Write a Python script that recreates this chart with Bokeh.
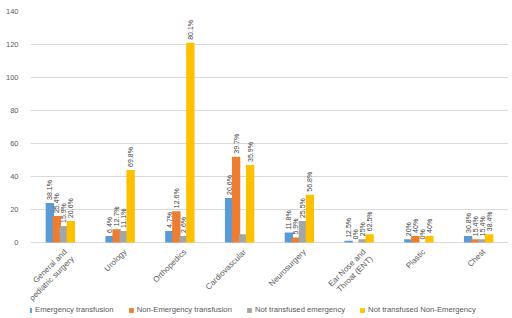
import math
from bokeh.plotting import figure
from bokeh.models import Legend, LegendItem, ColumnDataSource, Range1d, FixedTicker
from bokeh.transform import dodge
from bokeh.core.properties import value
from bokeh.embed import file_html
from bokeh.resources import INLINE

categories = ["General and\npediatric surgery", "Urology", "Orthopedics", "Cardiovascular",
              "Neurosurgery", "Ear Nose and\nThroat (ENT)", "Plastic", "Chest"]
series_names = ["Emergency transfusion", "Non-Emergency transfusion",
                "Not transfused emergency", "Not transfused Non-Emergency"]
emergency_transfusion = [24, 4, 7, 27, 6, 1, 2, 4]
non_emergency_transfusion = [16, 8, 19, 52, 3, 0, 4, 2]
not_transfused_emergency = [10, 7, 4, 5, 13, 2, 0, 2]
not_transfused_non_emergency = [13, 44, 121, 47, 29, 5, 4, 5]
pct_emergency_transfusion = ["38.1%", "6.4%", "4.7%", "20.6%", "11.8%", "12.5%", "20%", "30.8%"]
pct_non_emergency_transfusion = ["25.4%", "12.7%", "12.6%", "39.7%", "5.9%", "0%", "40%", "15.4%"]
pct_not_transfused_emergency = ["15.9%", "11.1%", "2.6%", "", "25.5%", "25%", "0%", "15.4%"]
pct_not_transfused_non_emergency = ["20.6%", "69.8%", "80.1%", "35.9%", "56.8%", "62.5%", "40%", "38.4%"]
y_ticks = [0, 20, 40, 60, 80, 100, 120, 140]

colors = ["#5B9BD5", "#ED7D31", "#A5A5A5", "#FFC000"]
offsets = [-0.176, -0.059, 0.059, 0.176]
values_list = [emergency_transfusion, non_emergency_transfusion,
               not_transfused_emergency, not_transfused_non_emergency]
labels_list = [pct_emergency_transfusion, pct_non_emergency_transfusion,
               pct_not_transfused_emergency, pct_not_transfused_non_emergency]

FONT = "Liberation Sans"
PX_PER_UNIT = 231 / 140.0
BOTTOM_PX = 76

# the frame extends below zero so the category labels and legend sit inside it
p = figure(x_range=categories, y_range=Range1d(-BOTTOM_PX / PX_PER_UNIT, 140),
           frame_width=478, frame_height=231 + BOTTOM_PX,
           min_border_left=30, min_border_right=4, min_border_top=11, min_border_bottom=0,
           output_backend="svg", toolbar_location=None)
p.outline_line_color = None
p.background_fill_color = "white"

items = []
for vals, labs, col, off, name in zip(values_list, labels_list, colors, offsets, series_names):
    src = ColumnDataSource(dict(cat=categories, v=vals, lab=labs))
    r = p.vbar(x=dodge("cat", off, range=p.x_range), top="v", width=0.14, source=src,
               fill_color=col, line_color=None)
    p.text(x=dodge("cat", off, range=p.x_range), y="v", text="lab", source=src,
           angle=math.pi / 2, text_align="left", text_baseline="middle",
           y_offset=-3, text_font=value(FONT), text_font_size="7px", text_color="#404040")
    items.append(LegendItem(label=name, renderers=[r]))

# category tick labels, placed on the categorical scale under the zero line
cat_src = ColumnDataSource(dict(cat=categories, y0=[0] * len(categories)))
p.text(x="cat", y="y0", text="cat", source=cat_src, angle=math.pi / 4,
       text_align="right", text_baseline="top", x_offset=2, y_offset=5,
       text_font=value(FONT), text_font_size="8px", text_color="#595959",
       text_line_height=1.1)

p.xaxis.visible = False
p.xgrid.grid_line_color = None
p.ygrid.ticker = FixedTicker(ticks=y_ticks)
p.ygrid.grid_line_color = "#D9D9D9"
p.ygrid.grid_line_width = 1
p.yaxis.ticker = FixedTicker(ticks=y_ticks)
p.yaxis.axis_line_color = None
p.yaxis.major_tick_line_color = None
p.yaxis.minor_tick_line_color = None
p.yaxis.major_label_text_font = FONT
p.yaxis.major_label_text_font_size = "7.5px"
p.yaxis.major_label_text_color = "#595959"
p.yaxis.major_label_standoff = 6

legend = Legend(items=items, orientation="horizontal", location=(-4, 4),
                label_text_font=FONT, label_text_font_size="7.7px", label_text_color="#595959",
                glyph_width=6, glyph_height=6, label_height=8, label_standoff=3, spacing=14,
                padding=0, margin=0, border_line_color=None, background_fill_alpha=0)
p.add_layout(legend, "center")

open("out.html", "w").write(file_html(p, INLINE))
